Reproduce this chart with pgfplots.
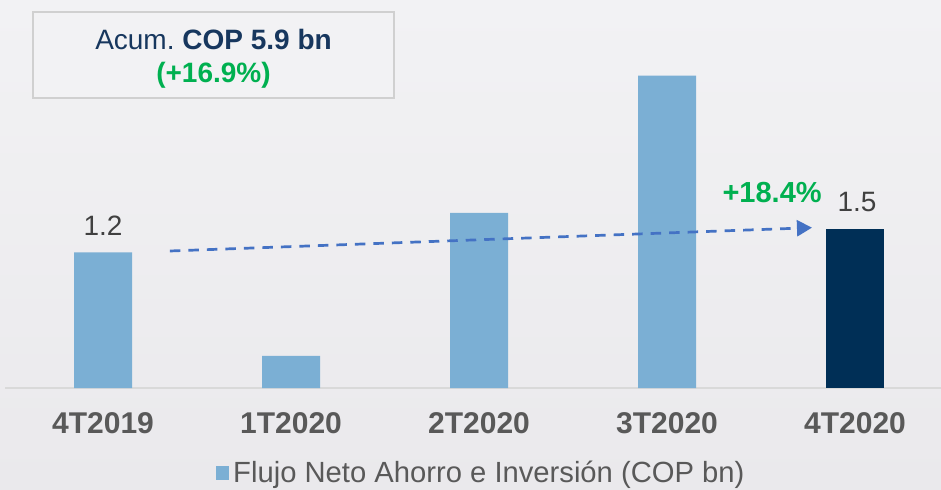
\documentclass[border=0pt]{standalone}
\usepackage{pgfplots}
\pgfplotsset{compat=1.18}
\usepackage{fontspec}
\setmainfont{Liberation Sans}
\usetikzlibrary{arrows.meta}
\definecolor{barlight}{HTML}{7BAFD4}
\definecolor{bardark}{HTML}{002F56}
\definecolor{arrowblue}{HTML}{4472C4}
\definecolor{posgreen}{HTML}{00B050}
\definecolor{navytxt}{HTML}{17375E}
\definecolor{lbl}{HTML}{404040}
\definecolor{ticktxt}{HTML}{595959}
\definecolor{axisgrey}{HTML}{D9D9D9}
\definecolor{boxgrey}{HTML}{D0D0D0}
\definecolor{bgtop}{HTML}{F2F2F4}
\definecolor{bgbot}{HTML}{EAE9EC}

\begin{document}
\begin{tikzpicture}
% background (1px = 0.5pt)
\shade[top color=bgtop, bottom color=bgbot] (0,0) rectangle (470.5pt,244.5pt);
\begin{axis}[
    at={(2.5pt,50.5pt)}, anchor=south west,
    scale only axis, width=468pt, height=194pt,
    xmin=-0.5213, xmax=4.4574, ymin=0, ymax=3.5596,
    ybar, bar width=29pt,
    axis y line=none,
    axis x line*=bottom,
    x axis line style={draw=axisgrey, line width=0.75pt, -},
    xtick={0,1,2,3,4},
    xticklabels={4T2019,1T2020,2T2020,3T2020,4T2020},
    major tick length=0pt,
    xticklabel style={anchor=center, yshift=-17.5pt,
        font=\fontsize{15}{18}\selectfont\bfseries, text=ticktxt},
    legend style={at={(0.51,-0.219)}, anchor=center, draw=none, fill=none,
        font=\fontsize{14.6}{17}\selectfont},
    legend image code/.code={\fill[barlight] (0pt,-3.5pt) rectangle (6.5pt,3.5pt);},
    clip=false,
]
\addplot[fill=barlight, draw=none, bar shift=0pt] coordinates {(0,1.244) (1,0.294) (2,1.606) (3,2.865)};
\addlegendentry{\textcolor{ticktxt}{Flujo Neto Ahorro e Inversión (COP bn)}}
\addplot[fill=bardark, draw=none, bar shift=0pt, forget plot] coordinates {(4,1.461)};

% growth arrow and labels
\draw[arrowblue, line width=1.35pt, dash pattern=on 5.25pt off 4pt,
      -{Triangle[length=7.5pt,width=8pt]}] (axis cs:0.356,1.257) -- (axis cs:3.771,1.471);
\node[text=lbl, font=\fontsize{14}{16}\selectfont] at (axis cs:0,1.486) {1.2};
\node[text=lbl, font=\fontsize{14}{16}\selectfont] at (axis cs:4.011,1.706) {1.5};
\node[text=posgreen, font=\fontsize{14.5}{17}\selectfont\bfseries] at (axis cs:3.559,1.789) {+18.4\%};
\end{axis}
% summary box
\draw[draw=boxgrey, line width=0.75pt, fill=bgtop] (16.5pt,195.5pt) rectangle (197pt,238.5pt);
\node[text=navytxt, font=\fontsize{14}{16}\selectfont] at (106.75pt,225pt) {Acum.\ \textbf{COP 5.9 bn}};
\node[text=posgreen, font=\fontsize{14}{16}\selectfont\bfseries] at (106.75pt,206.75pt) {(+16.9\%)};
\pgfresetboundingbox
\path (0,0) rectangle (470.5pt,244.5pt);
\end{tikzpicture}
\end{document}
